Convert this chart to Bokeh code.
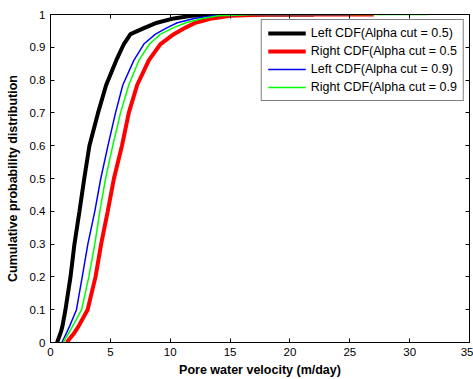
from bokeh.plotting import figure
from bokeh.models import LinearAxis, FixedTicker, Range1d
from bokeh.embed import file_html
from bokeh.resources import INLINE

# ---- data ----
cdf_levels = [0, 0.03, 0.05, 0.1, 0.2, 0.3, 0.4, 0.5, 0.6, 0.7, 0.785, 0.86,
              0.91, 0.94, 0.96, 0.975, 0.988, 0.996, 1.0, 1.0]
left_05_x = [0.55, 0.85, 1.0, 1.25, 1.67, 2.0, 2.42, 2.82, 3.25, 3.97, 4.65, 5.49,
             6.13, 6.68, 7.9, 8.9, 10.3, 11.8, 14.0, 22.0]
right_05_x = [1.35, 2.0, 2.35, 3.1, 3.76, 4.23, 4.78, 5.3, 5.97, 6.54, 7.24, 8.21,
              9.19, 10.3, 11.28, 12.1, 13.5, 15.0, 18.0, 27.0]
left_09_x = [0.95, 1.35, 1.6, 2.17, 2.65, 3.12, 3.7, 4.2, 4.8, 5.43, 6.04, 6.96,
             7.8, 8.77, 9.75, 10.6, 12.0, 13.5, 16.0, 25.0]
right_09_x = [1.05, 1.55, 1.85, 2.6, 3.2, 3.7, 4.12, 4.6, 5.2, 5.85, 6.54, 7.38,
              8.27, 9.19, 10.3, 11.3, 12.7, 14.0, 17.0, 31.5]

series_labels = ["Left CDF(Alpha cut = 0.5)", "Right CDF(Alpha cut = 0.5",
                 "Left CDF(Alpha cut = 0.9)", "Right CDF(Alpha cut = 0.9"]
x_ticks = [0, 5, 10, 15, 20, 25, 30, 35]
y_ticks = [0, 0.1, 0.2, 0.3, 0.4, 0.5, 0.6, 0.7, 0.8, 0.9, 1]
x_label = "Pore water velocity (m/day)"
y_label = "Cumulative probability distribution"

FONT = "Liberation Sans"

p = figure(width=473, height=379, output_backend="svg", toolbar_location=None,
           x_range=Range1d(0, 35), y_range=Range1d(0, 1),
           min_border_left=50, min_border_right=4, min_border_top=14,
           min_border_bottom=36)
p.background_fill_color = "white"
p.border_fill_color = "white"
p.outline_line_color = "black"
p.outline_line_width = 1
p.xgrid.visible = False
p.ygrid.visible = False

series = [
    (left_05_x, "black", 4),
    (right_05_x, "#ff0000", 4),
    (left_09_x, "#0000ff", 1.5),
    (right_09_x, "#00ff00", 1.5),
]
for (xs, color, w), lab in zip(series, series_labels):
    p.line(xs, cdf_levels, line_color=color, line_width=w, legend_label=lab)

def style_axis(ax, ticks, show_labels):
    ax.ticker = FixedTicker(ticks=ticks)
    ax.axis_line_color = "black"
    ax.major_tick_line_color = "black"
    ax.major_tick_in = 4
    ax.major_tick_out = 0
    ax.minor_tick_line_color = None
    ax.major_label_text_font = FONT
    if show_labels:
        ax.major_label_text_color = "black"
        ax.major_label_text_font_size = "11.5px"
        ax.major_label_standoff = 5
    else:
        ax.major_label_text_color = None
        ax.major_label_text_font_size = "1px"
        ax.major_label_standoff = 0

style_axis(p.xaxis[0], x_ticks, True)
style_axis(p.yaxis[0], y_ticks, True)
p.yaxis[0].major_label_overrides = {0: "0", 1: "1"}
p.xaxis[0].axis_label = x_label
p.yaxis[0].axis_label = y_label
for ax in (p.xaxis[0], p.yaxis[0]):
    ax.axis_label_text_font = FONT
    ax.axis_label_text_font_style = "bold"
    ax.axis_label_text_font_size = "12.5px"
    ax.axis_label_text_color = "black"
p.xaxis[0].axis_label_standoff = 4
p.yaxis[0].axis_label_standoff = 7

top_ax = LinearAxis()
style_axis(top_ax, x_ticks, False)
p.add_layout(top_ax, "above")
right_ax = LinearAxis()
style_axis(right_ax, y_ticks, False)
p.add_layout(right_ax, "right")

lg = p.legend[0]
lg.location = "top_right"
lg.margin = 5
lg.padding = 6
lg.spacing = 4
lg.glyph_width = 38
lg.glyph_height = 14
lg.label_height = 14
lg.label_standoff = 5
lg.label_text_font = FONT
lg.label_text_font_size = "12.5px"
lg.label_text_color = "black"
lg.border_line_color = "black"
lg.border_line_width = 1
lg.background_fill_color = "white"
lg.background_fill_alpha = 1.0

open("out.html", "w").write(file_html(p, INLINE))
